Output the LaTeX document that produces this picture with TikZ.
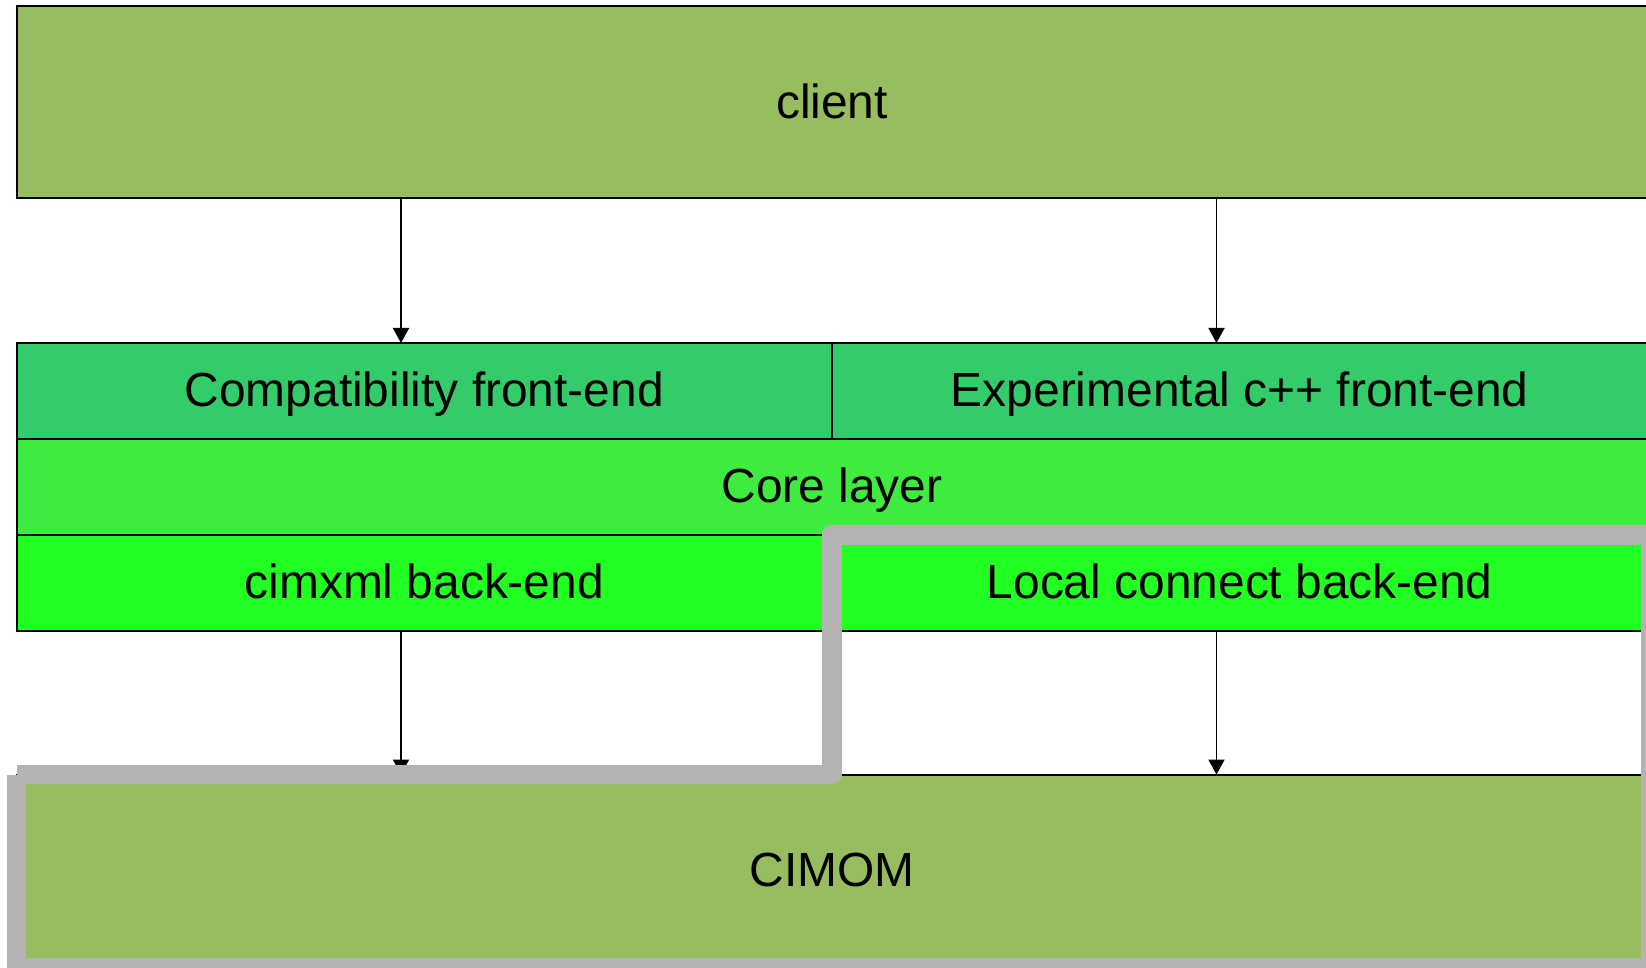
\documentclass[tikz,border=0pt]{standalone}
\usepackage{fontspec}
\setmainfont{Liberation Sans}
\usetikzlibrary{arrows.meta}

\definecolor{clientgreen}{RGB}{151,189,96}
\definecolor{frontgreen}{RGB}{52,204,106}
\definecolor{coregreen}{RGB}{63,235,63}
\definecolor{backgreen}{RGB}{34,255,34}
\definecolor{hlgray}{RGB}{179,179,179}

\begin{document}
\begin{tikzpicture}[x=0.5pt,y=-0.5pt,
  layer/.style={draw=black, line width=1pt, inner sep=0pt, outer sep=0pt,
    font=\fontsize{23.95}{28}\selectfont, text=black,
    text height=17.2pt, text depth=1.4pt},
  full/.style={layer, minimum width=815.5pt},
  half/.style={layer, minimum width=407.75pt},
  rowh/.style={minimum height=48pt},
  arr/.style={draw=black, line width=0.95pt, -{Triangle[length=7.5pt,width=8pt]}},
  highlight/.style={draw=hlgray, line width=9.75pt, line join=round, line cap=butt}]
  \useasboundingbox (0,0) rectangle (1646,968);
  \clip (0,0) rectangle (1646,968);

  % layers of the stack
  \node[full, fill=clientgreen, minimum height=96pt] (client) at (832,102.5) {client};
  \node[half, rowh, fill=frontgreen] (compat) at (424.25,391) {Compatibility front-end};
  \node[half, rowh, fill=frontgreen] (expt) at (1239.75,391) {Experimental c++ front-end};
  \node[full, rowh, fill=coregreen] (core) at (832,487) {Core layer};
  \node[half, rowh, fill=backgreen] (cimxml) at (424.25,583) {cimxml back-end};
  \node[half, rowh, fill=backgreen] (local) at (1239.75,583) {Local connect back-end};
  \node[full, fill=clientgreen, minimum height=95.75pt] (cimom) at (832,870.25) {CIMOM};

  % columns of the call paths
  \coordinate (la) at (401,0);
  \coordinate (ra) at (1216.5,0);

  \draw[arr] (client.south -| la) -- (compat.north -| la);
  \draw[arr] (client.south -| ra) -- (expt.north -| ra);
  \draw[arr] (cimxml.south -| la) -- (cimom.north -| la);
  \draw[arr] (local.south -| ra) -- (cimom.north -| ra);

  % outline round the local connect path
  \draw[highlight] (cimom.north west) -- (cimom.north -| local.west)
    -- (local.north west) -- ([xshift=1.5]local.north east)
    -- ([xshift=1.5,yshift=-0.75]cimom.south east) -- ([yshift=-0.75]cimom.south west)
    -- (cimom.north west);
\end{tikzpicture}
\end{document}
